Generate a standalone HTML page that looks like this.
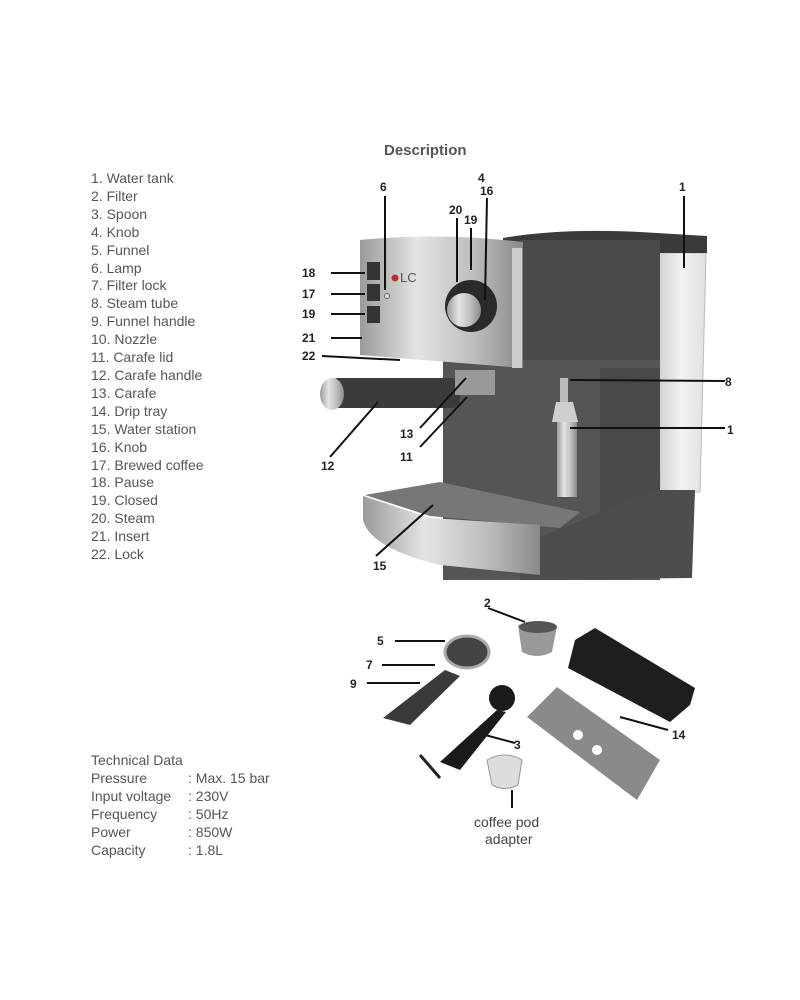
<!DOCTYPE html>
<html><head><meta charset="utf-8"><style>
body{margin:0;background:#fff}
svg{display:block}
text{font-family:"Liberation Sans",sans-serif}
.l{font-size:14px;fill:#555}
.n{font-size:12px;font-weight:bold;fill:#222}
</style></head><body>
<svg width="800" height="1000" viewBox="0 0 800 1000">
<defs>
<linearGradient id="sil" x1="0" x2="1"><stop offset="0" stop-color="#9a9a9a"/><stop offset=".35" stop-color="#e4e4e4"/><stop offset=".7" stop-color="#bdbdbd"/><stop offset="1" stop-color="#8a8a8a"/></linearGradient>
<linearGradient id="tank" x1="0" x2="1"><stop offset="0" stop-color="#cfcfcf"/><stop offset=".5" stop-color="#f2f2f2"/><stop offset="1" stop-color="#e0e0e0"/></linearGradient>
</defs>
<text x="384" y="155" font-size="15" font-weight="bold" fill="#555">Description</text>
<g class="l">
<text x="91" y="183">1. Water tank</text><text x="91" y="201">2. Filter</text><text x="91" y="219">3. Spoon</text><text x="91" y="237">4. Knob</text><text x="91" y="255">5. Funnel</text><text x="91" y="273">6. Lamp</text><text x="91" y="290">7. Filter lock</text><text x="91" y="308">8. Steam tube</text><text x="91" y="326">9. Funnel handle</text><text x="91" y="344">10. Nozzle</text><text x="91" y="362">11. Carafe lid</text><text x="91" y="380">12. Carafe handle</text><text x="91" y="398">13. Carafe</text><text x="91" y="416">14. Drip tray</text><text x="91" y="434">15. Water station</text><text x="91" y="452">16. Knob</text><text x="91" y="470">17. Brewed coffee</text><text x="91" y="487">18. Pause</text><text x="91" y="505">19. Closed</text><text x="91" y="523">20. Steam</text><text x="91" y="541">21. Insert</text><text x="91" y="559">22. Lock</text>
<text x="91" y="765">Technical Data</text>
<text x="91" y="783">Pressure</text><text x="188" y="783">: Max. 15 bar</text>
<text x="91" y="801">Input voltage</text><text x="188" y="801">: 230V</text>
<text x="91" y="819">Frequency</text><text x="188" y="819">: 50Hz</text>
<text x="91" y="837">Power</text><text x="188" y="837">: 850W</text>
<text x="91" y="855">Capacity</text><text x="188" y="855">: 1.8L</text>
</g>
<!-- machine -->
<polygon points="657,253 706,253 700,492 660,492" fill="url(#tank)" stroke="#bbb"/>
<path d="M503,238 Q560,228 640,232 L707,236 L707,253 L657,253 L640,250 L503,248 Z" fill="#3a3a3a"/>
<rect x="520" y="240" width="140" height="128" fill="#4a4a4a"/>
<rect x="443" y="360" width="217" height="220" fill="#555"/>
<rect x="600" y="368" width="60" height="210" fill="#4a4a4a"/>
<polygon points="655,490 695,490 692,578 520,580 520,545" fill="#4d4d4d"/>
<path d="M360,240 Q440,232 523,242 L523,368 L360,355 Z" fill="url(#sil)"/>
<rect x="512" y="248" width="10" height="120" fill="#ccc"/>
<rect x="367" y="262" width="13" height="18" fill="#333"/><rect x="367" y="284" width="13" height="17" fill="#333"/><rect x="367" y="306" width="13" height="17" fill="#333"/>
<circle cx="387" cy="296" r="2.5" fill="#ddd" stroke="#666"/>
<text x="400" y="282" font-family="Liberation Serif" font-size="13" fill="#555">LC</text><circle cx="395" cy="278" r="3.5" fill="#b33"/>
<circle cx="471" cy="306" r="26" fill="#2a2a2a"/><circle cx="464" cy="310" r="17" fill="url(#sil)"/>
<!-- tray -->
<polygon points="365,495 440,482 580,512 560,528 430,516" fill="#777"/>
<path d="M363,496 L430,518 L540,525 L540,575 L440,565 Q370,548 363,520 Z" fill="url(#sil)"/>
<!-- portafilter -->
<rect x="330" y="378" width="130" height="30" rx="8" fill="#3b3b3b"/>
<ellipse cx="332" cy="394" rx="12" ry="16" fill="url(#sil)"/>
<rect x="455" y="370" width="40" height="25" fill="#999"/>
<!-- steam wand -->
<rect x="560" y="378" width="8" height="30" fill="#bbb"/>
<polygon points="556,402 573,402 578,422 552,422" fill="#cfcfcf"/>
<rect x="557" y="422" width="20" height="75" fill="url(#sil)"/>
<!-- leader lines -->
<g stroke="#111" stroke-width="2" fill="none">
<line x1="331" y1="273" x2="365" y2="273"/><line x1="331" y1="294" x2="365" y2="294"/><line x1="331" y1="314" x2="365" y2="314"/><line x1="331" y1="338" x2="362" y2="338"/><line x1="322" y1="356" x2="400" y2="360"/>
<line x1="385" y1="196" x2="385" y2="290"/><line x1="684" y1="196" x2="684" y2="268"/>
<line x1="457" y1="218" x2="457" y2="282"/><line x1="471" y1="228" x2="471" y2="270"/><line x1="487" y1="198" x2="485" y2="300"/>
<line x1="570" y1="380" x2="725" y2="381"/><line x1="570" y1="428" x2="725" y2="428"/>
<line x1="330" y1="457" x2="378" y2="402"/><line x1="420" y1="428" x2="466" y2="378"/><line x1="420" y1="447" x2="467" y2="397"/><line x1="376" y1="556" x2="433" y2="505"/>
<line x1="488" y1="608" x2="525" y2="622"/><line x1="395" y1="641" x2="445" y2="641"/><line x1="382" y1="665" x2="435" y2="665"/><line x1="367" y1="683" x2="420" y2="683"/>
<line x1="485" y1="735" x2="515" y2="743"/><line x1="620" y1="717" x2="668" y2="730"/><line x1="512" y1="790" x2="512" y2="808"/>
</g>
<g class="n">
<text x="380" y="191">6</text><text x="679" y="191">1</text><text x="478" y="182">4</text><text x="480" y="195">16</text><text x="449" y="214">20</text><text x="464" y="224">19</text>
<text x="302" y="277">18</text><text x="302" y="298">17</text><text x="302" y="318">19</text><text x="302" y="342">21</text><text x="302" y="360">22</text>
<text x="725" y="386">8</text><text x="727" y="434">1</text><text x="321" y="470">12</text><text x="400" y="438">13</text><text x="400" y="461">11</text><text x="373" y="570">15</text>
<text x="484" y="607">2</text><text x="377" y="645">5</text><text x="366" y="669">7</text><text x="350" y="688">9</text><text x="514" y="749">3</text><text x="672" y="739">14</text>
</g>
<!-- accessories -->
<ellipse cx="467" cy="652" rx="22" ry="16" fill="#444" stroke="#aaa" stroke-width="3"/>
<polygon points="445,670 460,676 410,725 383,718" fill="#3a3a3a"/>
<path d="M518,625 Q540,620 557,626 L552,652 Q537,660 522,652 Z" fill="#999"/><ellipse cx="538" cy="627" rx="19" ry="6" fill="#555"/>
<polygon points="575,640 595,628 695,688 690,705 670,722 568,668" fill="#1e1e1e"/>
<polygon points="557,687 660,760 637,800 527,717" fill="#8a8a8a"/>
<circle cx="578" cy="735" r="5" fill="#fff"/><circle cx="597" cy="750" r="5" fill="#fff"/>
<circle cx="502" cy="698" r="13" fill="#1a1a1a"/>
<polygon points="497,710 506,712 460,770 440,762" fill="#1a1a1a"/><line x1="420" y1="755" x2="440" y2="778" stroke="#222" stroke-width="3"/>
<path d="M487,760 Q505,750 522,760 L518,785 Q505,792 492,785 Z" fill="#ddd" stroke="#999"/>
<text x="474" y="827" font-size="14" fill="#444">coffee pod</text><text x="485" y="844" font-size="14" fill="#444">adapter</text>
</svg>
</body></html>
